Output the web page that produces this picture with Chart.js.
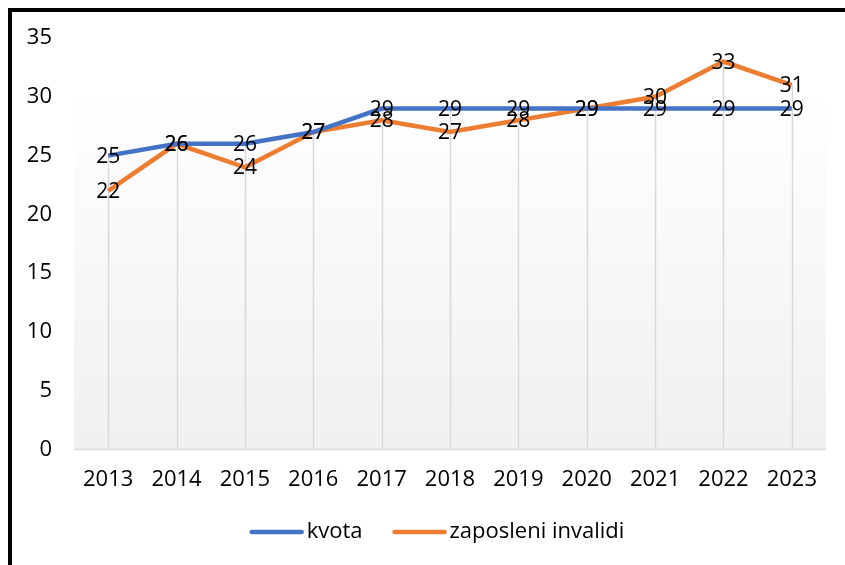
<!DOCTYPE html>
<html>
<head>
<meta charset="utf-8">
<script src="https://cdn.jsdelivr.net/npm/chart.js@4.4.1/dist/chart.umd.min.js"></script>
<style>
  html, body { margin: 0; padding: 0; background: #fff; }
  #wrap { position: relative; width: 845px; height: 565px; }
  #frame { position: absolute; left: 8px; top: 8px; right: 0; bottom: 0;
           border-left: 4px solid #000; border-top: 4px solid #000; pointer-events: none; }
  canvas { position: absolute; left: 0; top: 0; }
</style>
</head>
<body>
<div id="wrap">
  <canvas id="chart" width="845" height="565"></canvas>
  <div id="frame"></div>
</div>
<script>
const years = ['2013', '2014', '2015', '2016', '2017', '2018', '2019', '2020', '2021', '2022', '2023'];
const kvota = [25, 26, 26, 27, 29, 29, 29, 29, 29, 29, 29];
const zaposleni = [22, 26, 24, 27, 28, 27, 28, 29, 30, 33, 31];

const FONT = '"Open Sans", "Liberation Sans", sans-serif';

// plot area gradient fill, drop lines, data labels and legend
const plotExtras = {
    id: 'plotExtras',
    beforeDatasetsDraw(chart) {
        const ctx = chart.ctx;
        const a = chart.chartArea;
        const x = chart.scales.x, y = chart.scales.y;
        ctx.save();
        const top = a.top + 50;
        const g = ctx.createLinearGradient(0, top, 0, a.bottom);
        g.addColorStop(0, '#ffffff');
        g.addColorStop(1, '#f0f0f0');
        ctx.fillStyle = g;
        ctx.fillRect(a.left, top, a.right - a.left, a.bottom - top);

        ctx.strokeStyle = '#d9d9d9';
        ctx.lineWidth = 1.5;
        years.forEach((yr, i) => {
            const px = Math.round(x.getPixelForValue(i)) + 0.5;
            const hi = Math.max(kvota[i], zaposleni[i]);
            ctx.beginPath();
            ctx.moveTo(px, y.getPixelForValue(hi));
            ctx.lineTo(px, y.getPixelForValue(0));
            ctx.stroke();
        });
        ctx.beginPath();
        ctx.moveTo(a.left, y.getPixelForValue(0));
        ctx.lineTo(a.right, y.getPixelForValue(0));
        ctx.stroke();
        ctx.restore();
    },
    afterDatasetsDraw(chart) {
        const ctx = chart.ctx;
        ctx.save();
        ctx.font = '21px ' + FONT;
        ctx.fillStyle = '#000';
        ctx.textAlign = 'center';
        ctx.textBaseline = 'middle';
        chart.data.datasets.forEach((ds, di) => {
            chart.getDatasetMeta(di).data.forEach((pt, i) => {
                ctx.fillText(String(ds.data[i]), pt.x, pt.y + 1);
            });
        });
        ctx.restore();
    },
    afterDraw(chart) {
        // legend drawn below the axis, like the spreadsheet one
        const ctx = chart.ctx;
        ctx.save();
        ctx.font = '22px ' + FONT;
        ctx.textBaseline = 'middle';
        const lineW = 54, gap = 3, itemGap = 30, cy = 532;
        const items = chart.data.datasets.map(ds => ({
            ds, w: lineW + gap + ctx.measureText(ds.label).width
        }));
        const total = items.reduce((s, it) => s + it.w, 0) + itemGap * (items.length - 1);
        let cx = 437 - total / 2;
        items.forEach(it => {
            ctx.strokeStyle = it.ds.borderColor;
            ctx.lineWidth = 4.5;
            ctx.lineCap = 'round';
            ctx.beginPath();
            ctx.moveTo(cx + 2, cy);
            ctx.lineTo(cx + lineW - 2, cy);
            ctx.stroke();
            ctx.fillStyle = '#000';
            ctx.fillText(it.ds.label, cx + lineW + gap, cy);
            cx += it.w + itemGap;
        });
        ctx.restore();
    }
};

new Chart(document.getElementById('chart').getContext('2d'), {
    type: 'line',
    data: {
        labels: years,
        datasets: [{
            label: 'kvota',
            data: kvota,
            borderColor: '#4472c4',
            backgroundColor: '#4472c4',
            borderWidth: 4.5,
            pointRadius: 0,
            tension: 0
        }, {
            label: 'zaposleni invalidi',
            data: zaposleni,
            borderColor: '#ed7d31',
            backgroundColor: '#ed7d31',
            borderWidth: 4.5,
            pointRadius: 0,
            tension: 0
        }]
    },
    options: {
        responsive: false,
        animation: false,
        layout: { padding: { left: 12, right: 19, top: 38, bottom: 55 } },
        plugins: {
            tooltip: { enabled: false },
            legend: { display: false }
        },
        scales: {
            x: {
                offset: true,
                grid: { display: false, drawTicks: false },
                border: { display: false },
                ticks: { color: '#000', padding: 17, maxRotation: 0, font: { family: FONT, size: 22 } }
            },
            y: {
                min: 0,
                max: 35,
                afterFit(s) { s.width = 62; },
                grid: { display: false, drawTicks: false },
                border: { display: false },
                ticks: { stepSize: 5, color: '#000', padding: 22, font: { family: FONT, size: 22 } }
            }
        }
    },
    plugins: [plotExtras]
});
</script>
</body>
</html>
